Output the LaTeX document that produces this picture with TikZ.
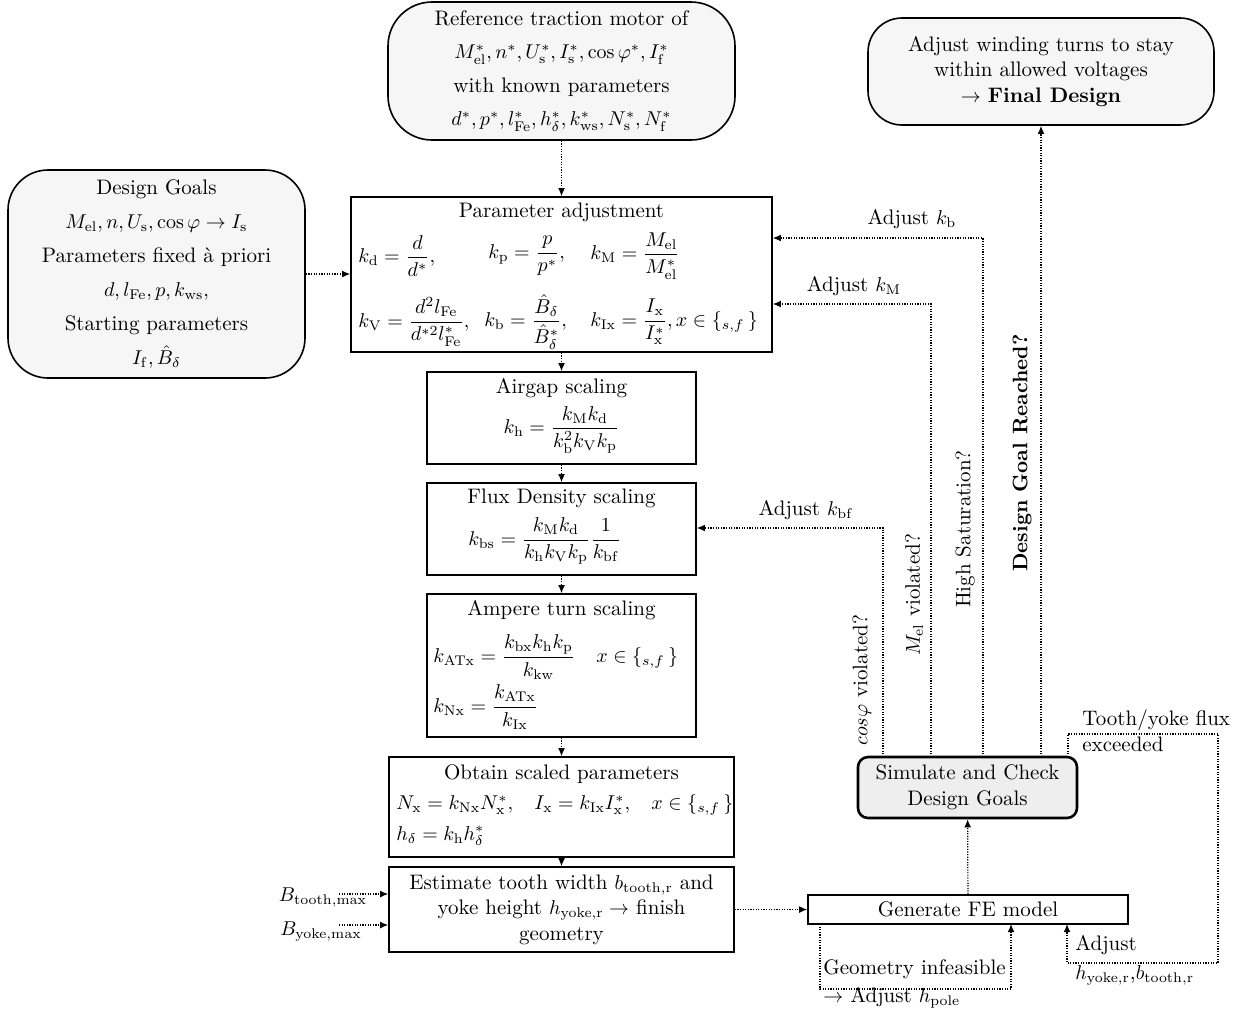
\documentclass[tikz,border=0pt]{standalone}
\usepackage{amsmath}
\DeclareMathSizes{10.5}{10}{7}{5}
\usetikzlibrary{arrows.meta}
\begin{document}
\begin{tikzpicture}[x=0.5pt,y=-0.5pt,
  every node/.append style={font=\fontsize{10.5pt}{12.6pt}\selectfont},
  box/.style={draw, line width=0.8pt, inner sep=0pt, rectangle},
  rbox/.style={box, fill=gray!7, align=center},
  txt/.style={inner sep=0pt},
  conn/.style={line width=0.6pt, dash pattern=on 0.6pt off 0.7pt, -{Latex[length=4pt,width=3.4pt]}},
  bls/.style={execute at begin node={\setlength{\baselineskip}{#1}}}]
\useasboundingbox (0,0) rectangle (1246,1014);

% rounded boxes
\node[rbox, rounded corners=22pt, minimum width=173.5pt, minimum height=69pt, bls=16.7pt] (ref) at (561.5,71)
  {Reference traction motor of\\ $M^*_\mathrm{el}, n^*, U^*_\mathrm{s}, I^*_\mathrm{s}, \cos\varphi^*, I^*_\mathrm{f}$\\ with known parameters\\ $d^*, p^*, l^*_\mathrm{Fe}, h^*_\delta, k^*_\mathrm{ws}, N^*_\mathrm{s}, N^*_\mathrm{f}$};
\node[rbox, rounded corners=20pt, minimum width=148.5pt, minimum height=104pt, bls=17pt] (goals) at (156.5,274)
  {Design Goals\\ $M_\mathrm{el}, n, U_\mathrm{s}, \cos\varphi \rightarrow I_\mathrm{s}$\\ Parameters fixed à priori\\ $d, l_\mathrm{Fe}, p, k_\mathrm{ws},$\\ Starting parameters\\ $I_\mathrm{f}, \hat{B}_\delta$};
\node[rbox, rounded corners=17pt, minimum width=173pt, minimum height=53.5pt, bls=12.75pt] (final) at (1041,71.5)
  {Adjust winding turns to stay\\ within allowed voltages\\ $\rightarrow$ \textbf{Final Design}};
\node[box, fill=gray!13, line width=1.3pt, rounded corners=5pt, align=center, minimum width=109.5pt, minimum height=30.5pt, bls=13pt] (sim) at (967.5,787.5)
  {Simulate and Check\\ Design Goals};

% rectangular boxes
\node[box, minimum width=210.5pt, minimum height=77.5pt] (param) at (561.5,274.5) {};
\node[txt] (paramT) at (561.5,212) {Parameter adjustment};
\node[txt, anchor=west] (kd) at (358,256) {$k_\mathrm{d} = \dfrac{d}{d^*},$};
\node[txt, anchor=west] (kp) at (488,256) {$k_\mathrm{p} = \dfrac{p}{p^*},$};
\node[txt, anchor=west] (kM) at (590,256) {$k_\mathrm{M} = \dfrac{M_\mathrm{el}}{M^*_\mathrm{el}}$};
\node[txt, anchor=west] (kV) at (358,322) {$k_\mathrm{V} = \dfrac{d^2 l_\mathrm{Fe}}{d^{*2} l^*_\mathrm{Fe}},$};
\node[txt, anchor=west] (kb) at (484,322) {$k_\mathrm{b} = \dfrac{\hat{B}_\delta}{\hat{B}^*_\delta},$};
\node[txt, anchor=west] (kI) at (590,322) {$k_\mathrm{Ix} = \dfrac{I_\mathrm{x}}{I^*_\mathrm{x}}, x \in \{_{s,f}\,\}$};

\node[box, minimum width=134.5pt, minimum height=46pt] (air) at (561.5,418) {};
\node[txt] (airT) at (561.5,388) {Airgap scaling};
\node[txt] (airE) at (561.5,430) {$k_\mathrm{h} = \dfrac{k_\mathrm{M}k_\mathrm{d}}{k^2_\mathrm{b}k_\mathrm{V}k_\mathrm{p}}$};

\node[box, minimum width=134.5pt, minimum height=46pt] (flux) at (561.5,529) {};
\node[txt] (fluxT) at (561.5,498) {Flux Density scaling};
\node[txt, anchor=west] (fluxE) at (468,541) {$k_\mathrm{bs} = \dfrac{k_\mathrm{M}k_\mathrm{d}}{k_\mathrm{h}k_\mathrm{V}k_\mathrm{p}}\dfrac{1}{k_\mathrm{bf}}$};

\node[box, minimum width=134.5pt, minimum height=71.5pt] (amp) at (561.5,665.5) {};
\node[txt] (ampT) at (561.5,610) {Ampere turn scaling};
\node[txt, anchor=west] (ampE1) at (433,657) {$k_\mathrm{ATx} = \dfrac{k_\mathrm{bx}k_\mathrm{h}k_\mathrm{p}}{k_\mathrm{kw}} \quad x \in \{_{s,f}\,\}$};
\node[txt, anchor=west] (ampE2) at (433,707) {$k_\mathrm{Nx} = \dfrac{k_\mathrm{ATx}}{k_\mathrm{Ix}}$};

\node[box, minimum width=172.5pt, minimum height=50pt] (obt) at (561.5,807) {};
\node[txt] (obtT) at (561.5,774) {Obtain scaled parameters};
\node[txt, anchor=west] (obtE1) at (396,805) {$N_\mathrm{x} = k_\mathrm{Nx}N^*_\mathrm{x},\hspace{9pt} I_\mathrm{x} = k_\mathrm{Ix}I^*_\mathrm{x},\hspace{9pt} x \in \{_{s,f}\,\}$};
\node[txt, anchor=west] (obtE2) at (396,836) {$h_\delta = k_\mathrm{h}h^*_\delta$};

\node[box, align=center, minimum width=172.5pt, minimum height=42.5pt, bls=12.75pt] (est) at (561.5,909.5)
  {Estimate tooth width $b_\mathrm{tooth,r}$ and\\ yoke height $h_\mathrm{yoke,r} \rightarrow$ finish\\ geometry};

\node[box, minimum width=160pt, minimum height=14.5pt] (fe) at (968,909.5) {Generate FE model};

% input labels
\node[txt] (Bt) at (323,898) {$B_\mathrm{tooth,max}$};
\node[txt] (By) at (321,932) {$B_\mathrm{yoke,max}$};
\coordinate (Bts) at (339,894);
\coordinate (Bys) at (339,925);

% main flow
\draw[conn] (ref) -- (param);
\draw[conn] (goals) -- (goals -| param.west);
\draw[conn] (param) -- (air);
\draw[conn] (air) -- (flux);
\draw[conn] (flux) -- (amp);
\draw[conn] (amp) -- (obt);
\draw[conn] (obt) -- (est);
\draw[conn] (Bts) -- (Bts -| est.west);
\draw[conn] (Bys) -- (Bys -| est.west);
\draw[conn] (est) -- (fe);
\draw[conn] (fe) -- (sim);

% feedback loops
\coordinate (c1) at (883,757);
\coordinate (c2) at (931,757);
\coordinate (c3) at (983,757);
\coordinate (c4) at (1041,757);
\coordinate (c5) at (1068,757);
\draw[conn] (c1) |- (flux.east |- 0,528);
\draw[conn] (c2) |- (param.east |- 0,304);
\draw[conn] (c3) |- (param.east |- 0,238);
\draw[conn] (c4) -- (c4 |- final.south);

\draw[conn] (c5) -- (1068,734) -- (1218,734) -- (1218,963) -- (1067,963) -- (1067,924);
\draw[conn] (820,924) -- (820,989) -- (1011,989) -- (1011,924);

% labels
\node[txt] (lkb) at (912,219) {Adjust $k_\mathrm{b}$};
\node[txt] (lkM) at (854,286) {Adjust $k_\mathrm{M}$};
\node[txt] (lkbf) at (806,510) {Adjust $k_\mathrm{bf}$};
\node[txt, rotate=90] (lcos) at (862,680) {$cos\varphi$ violated?};
\node[txt, rotate=90] (lMel) at (914,595) {$M_\mathrm{el}$ violated?};
\node[txt, rotate=90] (lsat) at (965,529) {High Saturation?};
\node[txt, rotate=90] (lgoal) at (1022,453) {\textbf{Design Goal Reached?}};
\node[txt, align=left, anchor=west, bls=13pt] (ltooth) at (1082,731) {Tooth/yoke flux\\ exceeded};
\node[txt, align=left, anchor=west, bls=14.5pt] (ladj) at (1075,960) {Adjust\\ $h_\mathrm{yoke,r}$,$b_\mathrm{tooth,r}$};
\node[txt, align=left, anchor=west, bls=14pt] (lgeo) at (823,984) {Geometry infeasible\\ $\rightarrow$ Adjust $h_\mathrm{pole}$};
\end{tikzpicture}
\end{document}
